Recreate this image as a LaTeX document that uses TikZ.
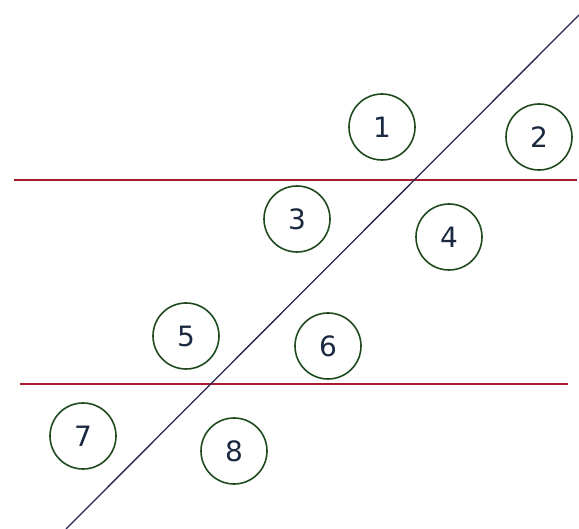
\documentclass[tikz,border=0pt]{standalone}
\usepackage{fontspec}
\setmainfont{DejaVu Sans}
\begin{document}
\begin{tikzpicture}[x=1pt,y=-1pt,
  num/.style={circle,draw=circgreen,line width=1.6pt,minimum size=66pt,inner sep=0pt,
    font=\fontsize{28}{28}\selectfont,text=numblue},
  redline/.style={draw=linered,line width=1.8pt},
  trans/.style={draw=transblue,line width=1.3pt}]
\definecolor{circgreen}{HTML}{1E4A1E}
\definecolor{numblue}{HTML}{1A2840}
\definecolor{linered}{HTML}{A81C2C}
\definecolor{transblue}{HTML}{2A2250}
\useasboundingbox (0,0) rectangle (579,529);
\coordinate (r1a) at (14,180);
\coordinate (r1b) at (577,180);
\coordinate (r2a) at (20,384);
\coordinate (r2b) at (568,384);
\coordinate (ta) at (66,529);
\coordinate (tb) at (579,15);
\draw[redline] (r1a) -- (r1b);
\draw[redline] (r2a) -- (r2b);
\draw[trans] (ta) -- (tb);
\node[num] (n1) at (382,127) {1};
\node[num] (n2) at (539,137) {2};
\node[num] (n3) at (297,219) {3};
\node[num] (n4) at (449,237) {4};
\node[num] (n5) at (186,336) {5};
\node[num] (n6) at (328,346) {6};
\node[num] (n7) at (83,436) {7};
\node[num] (n8) at (234,451) {8};
\end{tikzpicture}
\end{document}
